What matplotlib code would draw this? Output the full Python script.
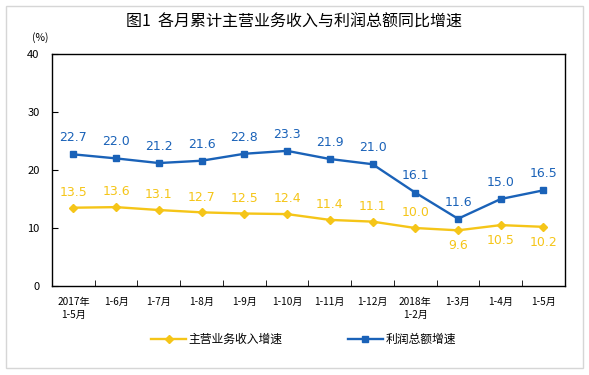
import numpy as np
import matplotlib.pyplot as plt
from matplotlib.patches import Rectangle

plt.rcParams['font.family'] = ['Noto Sans CJK SC', 'DejaVu Sans']

months = ["2017年\n1-5月", "1-6月", "1-7月", "1-8月", "1-9月", "1-10月",
          "1-11月", "1-12月", "2018年\n1-2月", "1-3月", "1-4月", "1-5月"]
revenue = [13.5, 13.6, 13.1, 12.7, 12.5, 12.4, 11.4, 11.1, 10.0, 9.6, 10.5, 10.2]
profit = [22.7, 22.0, 21.2, 21.6, 22.8, 23.3, 21.9, 21.0, 16.1, 11.6, 15.0, 16.5]
rev_below = [False] * 9 + [True, True, True]

yellow = "#F5C518"
blue = "#1A62B8"

fig = plt.figure(figsize=(5.89, 3.75), dpi=100)
fig.patches.append(Rectangle((0.010, 0.018), 0.980, 0.966, transform=fig.transFigure,
                             fill=False, edgecolor="#D6D6D6", linewidth=1.0))
ax = fig.add_axes([0.0883, 0.2373, 0.8707, 0.6187])

x = np.arange(len(months))
ax.plot(x, revenue, color=yellow, linewidth=1.7, marker="D", markersize=4,
        label="主营业务收入增速")
ax.plot(x, profit, color=blue, linewidth=1.7, marker="s", markersize=4,
        label="利润总额增速")

for i, v in enumerate(revenue):
    off = -11 if rev_below[i] else 11
    ax.annotate(f"{v:.1f}", (x[i], v), xytext=(0, off), textcoords="offset points",
                ha="center", va="center", color=yellow, fontsize=9, family="DejaVu Sans")
for i, v in enumerate(profit):
    ax.annotate(f"{v:.1f}", (x[i], v), xytext=(0, 12), textcoords="offset points",
                ha="center", va="center", color=blue, fontsize=9, family="DejaVu Sans")

ax.set_xlim(-0.5, len(months) - 0.5)
ax.set_ylim(0, 40)
ax.set_yticks([0, 10, 20, 30, 40])
ax.tick_params(axis="y", direction="in", length=4, labelsize=8, pad=9)
ax.set_xticks(x)
ax.set_xticklabels(months, fontsize=7.3, linespacing=1.4)
ax.tick_params(axis="x", length=0, pad=8)
ax.set_xticks(np.arange(0.5, len(months) - 0.5), minor=True)
ax.tick_params(axis="x", which="minor", direction="in", length=4)
for s in ax.spines.values():
    s.set_linewidth(1.0)
    s.set_color("black")

fig.text(0.5, 0.94, "图1  各月累计主营业务收入与利润总额同比增速", ha="center", va="center",
         fontsize=11.5, fontweight="medium")
fig.text(0.068, 0.9, "(%)", ha="center", va="center", fontsize=7.5)

fig.legend(loc="center", bbox_to_anchor=(0.515, 0.095), ncol=2, frameon=False,
           fontsize=8.5, handlelength=3, handletextpad=0.2, columnspacing=5.5)

fig.savefig("out.png", dpi=100)
